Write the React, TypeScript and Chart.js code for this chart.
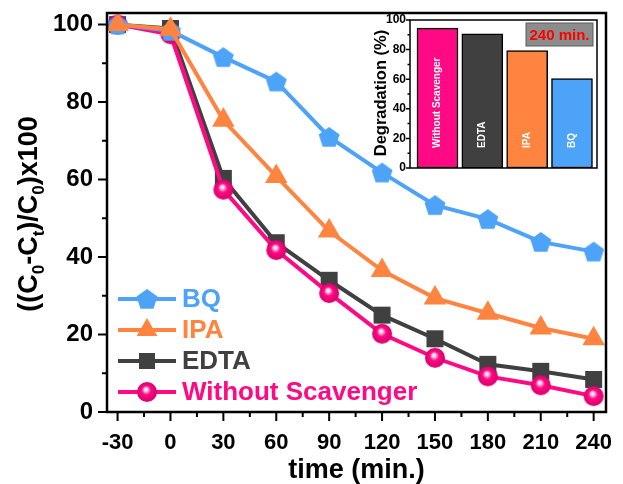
import { useEffect, useRef } from 'react';
import { Chart, registerables } from 'chart.js';

Chart.register(...registerables);

const FONT = "Arial, 'Liberation Sans', Helvetica, sans-serif";

// Sampling times (min.) and remaining dye fraction for each scavenger run
const timeMin = [-30, 0, 30, 60, 90, 120, 150, 180, 210, 240];
const bqValues = [100, 98.4, 91.6, 85.3, 71.0, 61.8, 53.4, 49.8, 43.9, 41.4];
const ipaValues = [100, 98.8, 75.3, 60.8, 46.7, 36.5, 29.4, 25.5, 21.7, 18.9];
const edtaValues = [100, 99.0, 60.3, 43.7, 34.0, 25.0, 18.9, 12.3, 10.5, 8.4];
const noScavengerValues = [100, 97.5, 57.4, 41.8, 30.7, 20.2, 14.0, 9.2, 6.9, 4.1];

const xTickValues = [-30, 0, 30, 60, 90, 120, 150, 180, 210, 240];
const yTickValues = [0, 20, 40, 60, 80, 100];

// Degradation after 240 min. (inset)
const insetLabels = ['Without Scavenger', 'EDTA', 'IPA', 'BQ'];
const insetDegradation = [94.5, 90.6, 79.4, 60.4];
const insetTickValues = [0, 20, 40, 60, 80, 100];

const BLUE = '#4DA3F7';
const ORANGE = '#FF8440';
const DARK = '#404040';
const PINK = '#FF0A84';

function pentagonMarker(r: number, color: string): HTMLCanvasElement {
  const s = Math.ceil(r * 2 + 2);
  const c = document.createElement('canvas');
  c.width = s;
  c.height = s;
  const g = c.getContext('2d')!;
  g.fillStyle = color;
  g.beginPath();
  for (let i = 0; i < 5; i++) {
    const a = -Math.PI / 2 + (i * 2 * Math.PI) / 5;
    const px = s / 2 + r * Math.cos(a);
    const py = s / 2 + r * Math.sin(a) + r * 0.08;
    if (i === 0) g.moveTo(px, py);
    else g.lineTo(px, py);
  }
  g.closePath();
  g.fill();
  return c;
}

function sphereMarker(r: number, color: string): HTMLCanvasElement {
  const s = Math.ceil(r * 2 + 2);
  const c = document.createElement('canvas');
  c.width = s;
  c.height = s;
  const g = c.getContext('2d')!;
  const cx = s / 2;
  const cy = s / 2;
  const grad = g.createRadialGradient(cx - r * 0.12, cy - r * 0.3, 0, cx, cy, r);
  grad.addColorStop(0, '#ffffff');
  grad.addColorStop(0.18, '#ffd0e8');
  grad.addColorStop(0.45, color);
  grad.addColorStop(1, '#d8006c');
  g.fillStyle = grad;
  g.beginPath();
  g.arc(cx, cy, r, 0, Math.PI * 2);
  g.fill();
  return c;
}

function drawYTitle(ctx: CanvasRenderingContext2D, cx: number, cy: number) {
  const big = `bold 27px ${FONT}`;
  const small = `bold 17px ${FONT}`;
  const parts: [string, boolean][] = [
    ['((C', false], ['0', true], ['-C', false], ['t', true],
    [')/C', false], ['0', true], [')x100', false],
  ];
  ctx.save();
  ctx.translate(cx, cy);
  ctx.rotate(-Math.PI / 2);
  let total = 0;
  for (const [t, sub] of parts) {
    ctx.font = sub ? small : big;
    total += ctx.measureText(t).width;
  }
  let x = -total / 2;
  ctx.fillStyle = '#000';
  ctx.textBaseline = 'middle';
  ctx.textAlign = 'left';
  for (const [t, sub] of parts) {
    ctx.font = sub ? small : big;
    ctx.fillText(t, x, sub ? 9 : 0);
    x += ctx.measureText(t).width;
  }
  ctx.restore();
}

export default function App() {
  const mainRef = useRef<HTMLCanvasElement | null>(null);
  const insetRef = useRef<HTMLCanvasElement | null>(null);

  useEffect(() => {
    const pentagon = pentagonMarker(11, BLUE);
    const sphere = sphereMarker(10, PINK);

    const series = (values: number[]) => values.map((y, i) => ({ x: timeMin[i], y }));

    const legendItems = [
      { label: 'BQ', color: BLUE, marker: 'pentagon' },
      { label: 'IPA', color: ORANGE, marker: 'triangle' },
      { label: 'EDTA', color: DARK, marker: 'rect' },
      { label: 'Without Scavenger', color: PINK, marker: 'sphere' },
    ];

    const framePlugin = {
      id: 'frameTicksLegend',
      afterDraw(chart: any) {
        const { ctx, chartArea: a, scales } = chart;
        const xs = scales.x;
        const ys = scales.y;
        ctx.save();
        ctx.strokeStyle = '#000';
        ctx.lineWidth = 2.5;
        ctx.strokeRect(a.left, a.top, a.right - a.left, a.bottom - a.top);
        ctx.lineWidth = 2;
        ctx.beginPath();
        for (let v = -30; v <= 240; v += 15) {
          const px = xs.getPixelForValue(v);
          const len = v % 30 === 0 ? 9 : 5;
          ctx.moveTo(px, a.bottom);
          ctx.lineTo(px, a.bottom + len);
        }
        for (let v = 0; v <= 100; v += 10) {
          const py = ys.getPixelForValue(v);
          const len = v % 20 === 0 ? 9 : 5;
          ctx.moveTo(a.left, py);
          ctx.lineTo(a.left - len, py);
        }
        ctx.stroke();

        // legend
        const x0 = a.left + 11;
        const x1 = a.left + 69;
        const mx = (x0 + x1) / 2;
        legendItems.forEach((it, i) => {
          const y = ys.getPixelForValue(0) - 113 + i * 31;
          ctx.strokeStyle = it.color;
          ctx.lineWidth = 4;
          ctx.beginPath();
          ctx.moveTo(x0, y);
          ctx.lineTo(x1, y);
          ctx.stroke();
          ctx.fillStyle = it.color;
          if (it.marker === 'pentagon') {
            ctx.drawImage(pentagon, mx - pentagon.width / 2, y - pentagon.height / 2);
          } else if (it.marker === 'sphere') {
            ctx.drawImage(sphere, mx - sphere.width / 2, y - sphere.height / 2);
          } else if (it.marker === 'triangle') {
            const r = 12;
            ctx.beginPath();
            ctx.moveTo(mx, y - r);
            ctx.lineTo(mx + r * 0.866, y + r / 2);
            ctx.lineTo(mx - r * 0.866, y + r / 2);
            ctx.closePath();
            ctx.fill();
          } else {
            ctx.fillRect(mx - 8, y - 8, 16, 16);
          }
          ctx.font = `bold 26px ${FONT}`;
          ctx.textAlign = 'left';
          ctx.textBaseline = 'middle';
          ctx.fillText(it.label, x1 + 6, y + 1);
        });

        drawYTitle(ctx, 30, 214);
        ctx.restore();
      },
    };

    const common = { fill: false, borderWidth: 4, tension: 0, pointBorderWidth: 0, pointHoverRadius: 0 };

    const main = new Chart(mainRef.current!, {
      type: 'line',
      data: {
        datasets: [
          {
            ...common, label: 'EDTA', data: series(edtaValues), borderColor: DARK,
            backgroundColor: DARK, pointBackgroundColor: DARK, pointBorderColor: DARK,
            pointStyle: 'rect', pointRadius: 12, order: 4,
          },
          {
            ...common, label: 'Without Scavenger', data: series(noScavengerValues), borderColor: PINK,
            backgroundColor: PINK, pointStyle: sphere, pointRadius: 10, order: 3,
          },
          {
            ...common, label: 'BQ', data: series(bqValues), borderColor: BLUE,
            backgroundColor: BLUE, pointStyle: pentagon, pointRadius: 11, order: 2,
          },
          {
            ...common, label: 'IPA', data: series(ipaValues), borderColor: ORANGE,
            backgroundColor: ORANGE, pointBackgroundColor: ORANGE, pointBorderColor: ORANGE,
            pointStyle: 'triangle', pointRadius: 13, order: 1,
          },
        ] as any,
      },
      options: {
        animation: false,
        responsive: false,
        devicePixelRatio: 1,
        events: [],
        layout: { padding: { top: 10, right: 17, left: 0, bottom: 0 } },
        plugins: { legend: { display: false }, tooltip: { enabled: false } },
        scales: {
          x: {
            type: 'linear',
            min: -36,
            max: 247,
            afterBuildTicks: (s: any) => { s.ticks = xTickValues.map((value) => ({ value })); },
            afterFit: (s: any) => { s.height = 72; s.paddingLeft = 0; s.paddingRight = 0; },
            grid: { display: false, drawTicks: false },
            border: { display: false },
            ticks: { color: '#000', font: { family: FONT, size: 22, weight: 'bold' }, padding: 18, maxRotation: 0, autoSkip: false },
            title: { display: true, text: 'time (min.)', color: '#000', font: { family: FONT, size: 27, weight: 'bold', lineHeight: 1 }, padding: 0 },
          },
          y: {
            type: 'linear',
            min: 0,
            max: 103,
            afterBuildTicks: (s: any) => { s.ticks = yTickValues.map((value) => ({ value })); },
            afterFit: (s: any) => { s.width = 107; s.paddingTop = 0; s.paddingBottom = 0; },
            grid: { display: false, drawTicks: false },
            border: { display: false },
            ticks: { color: '#000', font: { family: FONT, size: 24, weight: 'bold' }, padding: 14, autoSkip: false },
          },
        },
      } as any,
      plugins: [framePlugin],
    });

    const insetPlugin = {
      id: 'insetDecor',
      afterDraw(chart: any) {
        const { ctx, chartArea: a, scales } = chart;
        const ys = scales.y;
        ctx.save();
        ctx.strokeStyle = '#000';
        ctx.lineWidth = 1.5;
        ctx.strokeRect(a.left, a.top, a.right - a.left, a.bottom - a.top);
        ctx.beginPath();
        for (let v = 0; v <= 100; v += 10) {
          const py = ys.getPixelForValue(v);
          const len = v % 20 === 0 ? 4 : 2.5;
          ctx.moveTo(a.left, py);
          ctx.lineTo(a.left - len, py);
        }
        ctx.stroke();

        // labels written up inside each bar
        const meta = chart.getDatasetMeta(0);
        ctx.fillStyle = '#fff';
        ctx.font = `bold 10px ${FONT}`;
        ctx.textAlign = 'left';
        ctx.textBaseline = 'middle';
        meta.data.forEach((bar: any, i: number) => {
          ctx.save();
          ctx.translate(bar.x, a.bottom - 20);
          ctx.rotate(-Math.PI / 2);
          ctx.fillText(insetLabels[i], 0, 0);
          ctx.restore();
        });

        // time stamp box
        const bw = 67;
        const bh = 23;
        const bx = a.right - 4 - bw;
        const by = a.top + 3;
        ctx.fillStyle = '#8c8c8c';
        ctx.fillRect(bx, by, bw, bh);
        ctx.strokeStyle = '#5a5a5a';
        ctx.lineWidth = 1;
        ctx.strokeRect(bx, by, bw, bh);
        ctx.fillStyle = '#ff0000';
        ctx.font = `bold 15px ${FONT}`;
        ctx.textAlign = 'center';
        ctx.fillText('240 min.', bx + bw / 2, by + bh / 2 + 1);

        // axis title
        ctx.save();
        ctx.translate(26, (a.top + a.bottom) / 2 - 1);
        ctx.rotate(-Math.PI / 2);
        ctx.fillStyle = '#000';
        ctx.font = `bold 16.5px ${FONT}`;
        ctx.textAlign = 'center';
        ctx.textBaseline = 'middle';
        ctx.fillText('Degradation (%)', 0, 0);
        ctx.restore();
        ctx.restore();
      },
    };

    const inset = new Chart(insetRef.current!, {
      type: 'bar',
      data: {
        datasets: [
          {
            data: insetDegradation.map((y, i) => ({ x: i + 1, y })),
            backgroundColor: [PINK, DARK, ORANGE, BLUE],
            borderColor: '#000',
            borderWidth: 1.5,
            borderSkipped: false,
            barThickness: 41,
          },
        ] as any,
      },
      options: {
        animation: false,
        responsive: false,
        devicePixelRatio: 1,
        events: [],
        layout: { padding: { top: 10, right: 13, left: 0, bottom: 12 } },
        plugins: { legend: { display: false }, tooltip: { enabled: false } },
        scales: {
          x: {
            type: 'linear',
            min: 0.387,
            max: 4.558,
            offset: false,
            afterBuildTicks: (s: any) => { s.ticks = []; },
            afterFit: (s: any) => { s.height = 0; s.paddingLeft = 0; s.paddingRight = 0; },
            grid: { display: false, drawTicks: false },
            border: { display: false },
            ticks: { display: false },
          },
          y: {
            type: 'linear',
            min: 0,
            max: 100,
            afterBuildTicks: (s: any) => { s.ticks = insetTickValues.map((value) => ({ value })); },
            afterFit: (s: any) => { s.width = 55; s.paddingTop = 0; s.paddingBottom = 0; },
            grid: { display: false, drawTicks: false },
            border: { display: false },
            ticks: { color: '#000', font: { family: FONT, size: 12, weight: 'bold' }, padding: 4, autoSkip: false },
          },
        },
      } as any,
      plugins: [insetPlugin],
    });

    return () => {
      main.destroy();
      inset.destroy();
    };
  }, []);

  return (
    <div style={{ position: 'absolute', left: 0, top: 0, width: 623, height: 484, background: '#fff' }}>
      <canvas ref={mainRef} width={623} height={484} style={{ position: 'absolute', left: 0, top: 0, display: 'block' }} />
      <canvas ref={insetRef} width={255} height={170} style={{ position: 'absolute', left: 355, top: 10, display: 'block' }} />
    </div>
  );
}
